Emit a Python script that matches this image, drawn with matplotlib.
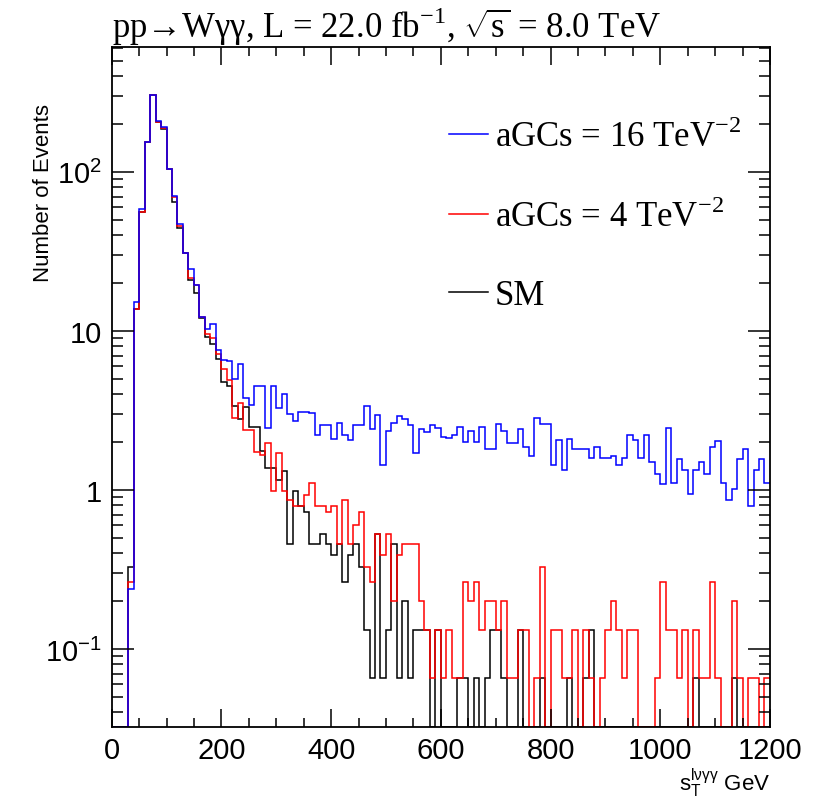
#!/usr/bin/env python3
# coding: utf-8

import numpy as np
import matplotlib
matplotlib.use('Agg')
import matplotlib.pyplot as plt
from matplotlib.ticker import MultipleLocator, LogLocator, FixedLocator, FuncFormatter, NullFormatter

# bins de 10 GeV entre 0 e 1200
bordas = np.arange(0, 1210, 10)

# aGCs = 16 TeV^-2 (azul)
agc16 = [0, 0, 0, 0.24, 15.2, 58.6, 155, 306, 210, 191,
         104, 71, 46.7, 30.9, 24.6, 19.4, 12.3, 10.3, 11.0, 7.6,
         6.6, 6.5, 5.0, 6.2, 3.8, 3.4, 4.5, 4.5, 2.45, 4.5,
         3.3, 4.0, 3.0, 2.7, 3.1, 3.1, 3.05, 2.22, 2.58, 2.58,
         2.1, 2.65, 2.22, 2.06, 2.58, 2.55, 3.36, 2.43, 2.95, 1.43,
         2.36, 2.63, 2.9, 2.8, 2.58, 1.72, 2.43, 2.33, 2.58, 2.47,
         2.16, 2.13, 2.22, 2.5, 2.0, 2.34, 2.0, 2.5, 1.82, 1.82,
         2.6, 2.34, 1.97, 1.97, 2.43, 1.87, 1.64, 2.83, 2.6, 2.6,
         1.43, 2.06, 1.34, 2.08, 1.82, 1.82, 1.82, 1.59, 1.87, 1.59,
         1.59, 1.64, 1.44, 1.59, 2.22, 2.06, 1.59, 2.22, 1.5, 1.26,
         1.09, 2.45, 1.1, 1.57, 1.34, 0.94, 1.34, 1.5, 1.26, 1.87,
         2.03, 1.1, 0.87, 1.01, 1.57, 1.82, 0.79, 1.34, 1.57, 1.1]

# aGCs = 4 TeV^-2 (vermelho)
agc4 = [0, 0, 0, 0.265, 13.8, 55.9, 155, 306, 205, 188,
        104, 70, 46, 30.9, 21.5, 19.5, 12.3, 9.5, 9.0, 7.2,
        5.8, 4.9, 2.85, 3.5, 2.4, 2.4, 1.73, 1.66, 1.98, 0.99,
        1.7, 0.99, 0.86, 0.79, 0.79, 0.93, 1.1, 0.79, 0.79, 0.73,
        0.79, 0.46, 0.86, 0.46, 0.6, 0.73, 0.33, 0.265, 0.53, 0.39,
        0.53, 0.2, 0.39, 0.46, 0.46, 0.46, 0.2, 0.132, 0.066, 0.132,
        0.066, 0.132, 0.066, 0.066, 0.265, 0.2, 0.265, 0.132, 0.2, 0.2,
        0.132, 0.2, 0.066, 0.066, 0.132, 0.132, 0, 0.066, 0.33, 0,
        0.132, 0.132, 0.066, 0.066, 0.132, 0, 0.132, 0.066, 0, 0.066,
        0.132, 0.2, 0.132, 0.066, 0.132, 0.132, 0, 0, 0, 0.066,
        0.265, 0.132, 0.132, 0.066, 0.132, 0, 0.132, 0.066, 0.066, 0.265,
        0.066, 0, 0, 0.2, 0.066, 0, 0.066, 0.066, 0, 0.066]

# SM (preto)
sm = [0, 0, 0, 0.327, 13.8, 55.9, 155, 306, 205, 186,
      104, 64.5, 44.6, 30.9, 21.0, 17.2, 12.0, 9.2, 8.3, 6.7,
      4.8, 4.5, 3.37, 2.8, 3.34, 2.48, 2.48, 1.75, 1.38, 1.38,
      1.16, 1.31, 0.46, 0.99, 0.79, 0.73, 0.46, 0.46, 0.53, 0.46,
      0.39, 0.46, 0.265, 0.39, 0.46, 0.33, 0.132, 0.066, 0.53, 0.066,
      0.132, 0.46, 0.066, 0.2, 0.066, 0.132, 0.132, 0.132, 0, 0.132,
      0, 0, 0, 0.066, 0.066, 0, 0.066, 0, 0.066, 0.132,
      0.132, 0.066, 0, 0, 0.132, 0, 0, 0, 0.066, 0,
      0, 0, 0, 0.066, 0, 0, 0.066, 0.132, 0, 0,
      0, 0, 0, 0, 0, 0, 0, 0, 0, 0,
      0, 0, 0, 0, 0, 0, 0.066, 0, 0, 0,
      0, 0, 0, 0.066, 0, 0, 0, 0, 0, 0]

rotulos = ['aGCs = 16 TeV$^{\\mathregular{-2}}$',
           'aGCs = 4 TeV$^{\\mathregular{-2}}$',
           'SM']

YMIN, YMAX = 0.0322, 610

plt.rcParams['font.family'] = ['Liberation Sans', 'DejaVu Sans']
plt.rcParams['mathtext.fontset'] = 'custom'
plt.rcParams['mathtext.rm'] = 'Liberation Sans'

fig = plt.figure(figsize=(8.29, 8.12), dpi=100)
ax = fig.add_axes([0.1347, 0.1031, 0.7941, 0.8378])


def no_fundo(v):
    # ROOT desenha os bins vazios em cima do eixo
    v = np.asarray(v, dtype=float)
    return np.where(v > 0, v, YMIN)


l_sm = ax.stairs(no_fundo(sm), bordas, baseline=None, color='black', linewidth=1.1)
l_4 = ax.stairs(no_fundo(agc4), bordas, baseline=None, color='red', linewidth=1.1)
l_16 = ax.stairs(no_fundo(agc16), bordas, baseline=None, color='blue', linewidth=1.1)

ax.set_yscale('log')
ax.set_xlim(0, 1200)
ax.set_ylim(YMIN, YMAX)

ax.xaxis.set_major_locator(MultipleLocator(200))
ax.xaxis.set_minor_locator(MultipleLocator(50))

ax.yaxis.set_major_locator(FixedLocator([0.1, 1, 10, 100]))
ax.yaxis.set_minor_locator(LogLocator(subs=np.arange(2, 10)))
ax.yaxis.set_minor_formatter(NullFormatter())
nomes_y = {0.1: '$\\mathregular{10^{-1}}$', 1: '1', 10: '10', 100: '$\\mathregular{10^{2}}$'}
ax.yaxis.set_major_formatter(FuncFormatter(lambda v, p: nomes_y.get(round(v, 3), '')))

ax.tick_params(which='both', direction='in', top=True, right=True, width=1.1, labelsize=21)
ax.tick_params(axis='x', which='major', length=13, pad=6)
ax.tick_params(axis='x', which='minor', length=6.5)
ax.tick_params(axis='y', which='major', length=16, pad=7)
ax.tick_params(axis='y', which='minor', length=8)
for s in ax.spines.values():
    s.set_linewidth(1.3)

ax.set_ylabel('Number of Events', fontsize=16, loc='top')
ax.yaxis.set_label_coords(-0.088, 0.917)
ax.set_xlabel('s$_{\\mathregular{T}}^{\\mathregular{l\u03bd\u03b3\u03b3}}$ GeV', fontsize=16, loc='right')
ax.xaxis.set_label_coords(1.0, -0.056)

serif = ['Liberation Serif', 'DejaVu Serif']
ax.set_title('pp\u2192W\u03b3\u03b3, L = 22.0 fb$^{\\mathregular{-1}}$, $\\sqrt{\\mathregular{s}}$ = 8.0 TeV',
             loc='left', fontsize=25, family=serif, pad=2)

ax.legend([l_16, l_4, l_sm], rotulos, loc='upper left', bbox_to_anchor=(0.465, 0.94),
          frameon=False, prop={'family': serif, 'size': 25},
          handlelength=1.12, handletextpad=0.2, labelspacing=1.3)

fig.savefig('out.png', dpi=100)
